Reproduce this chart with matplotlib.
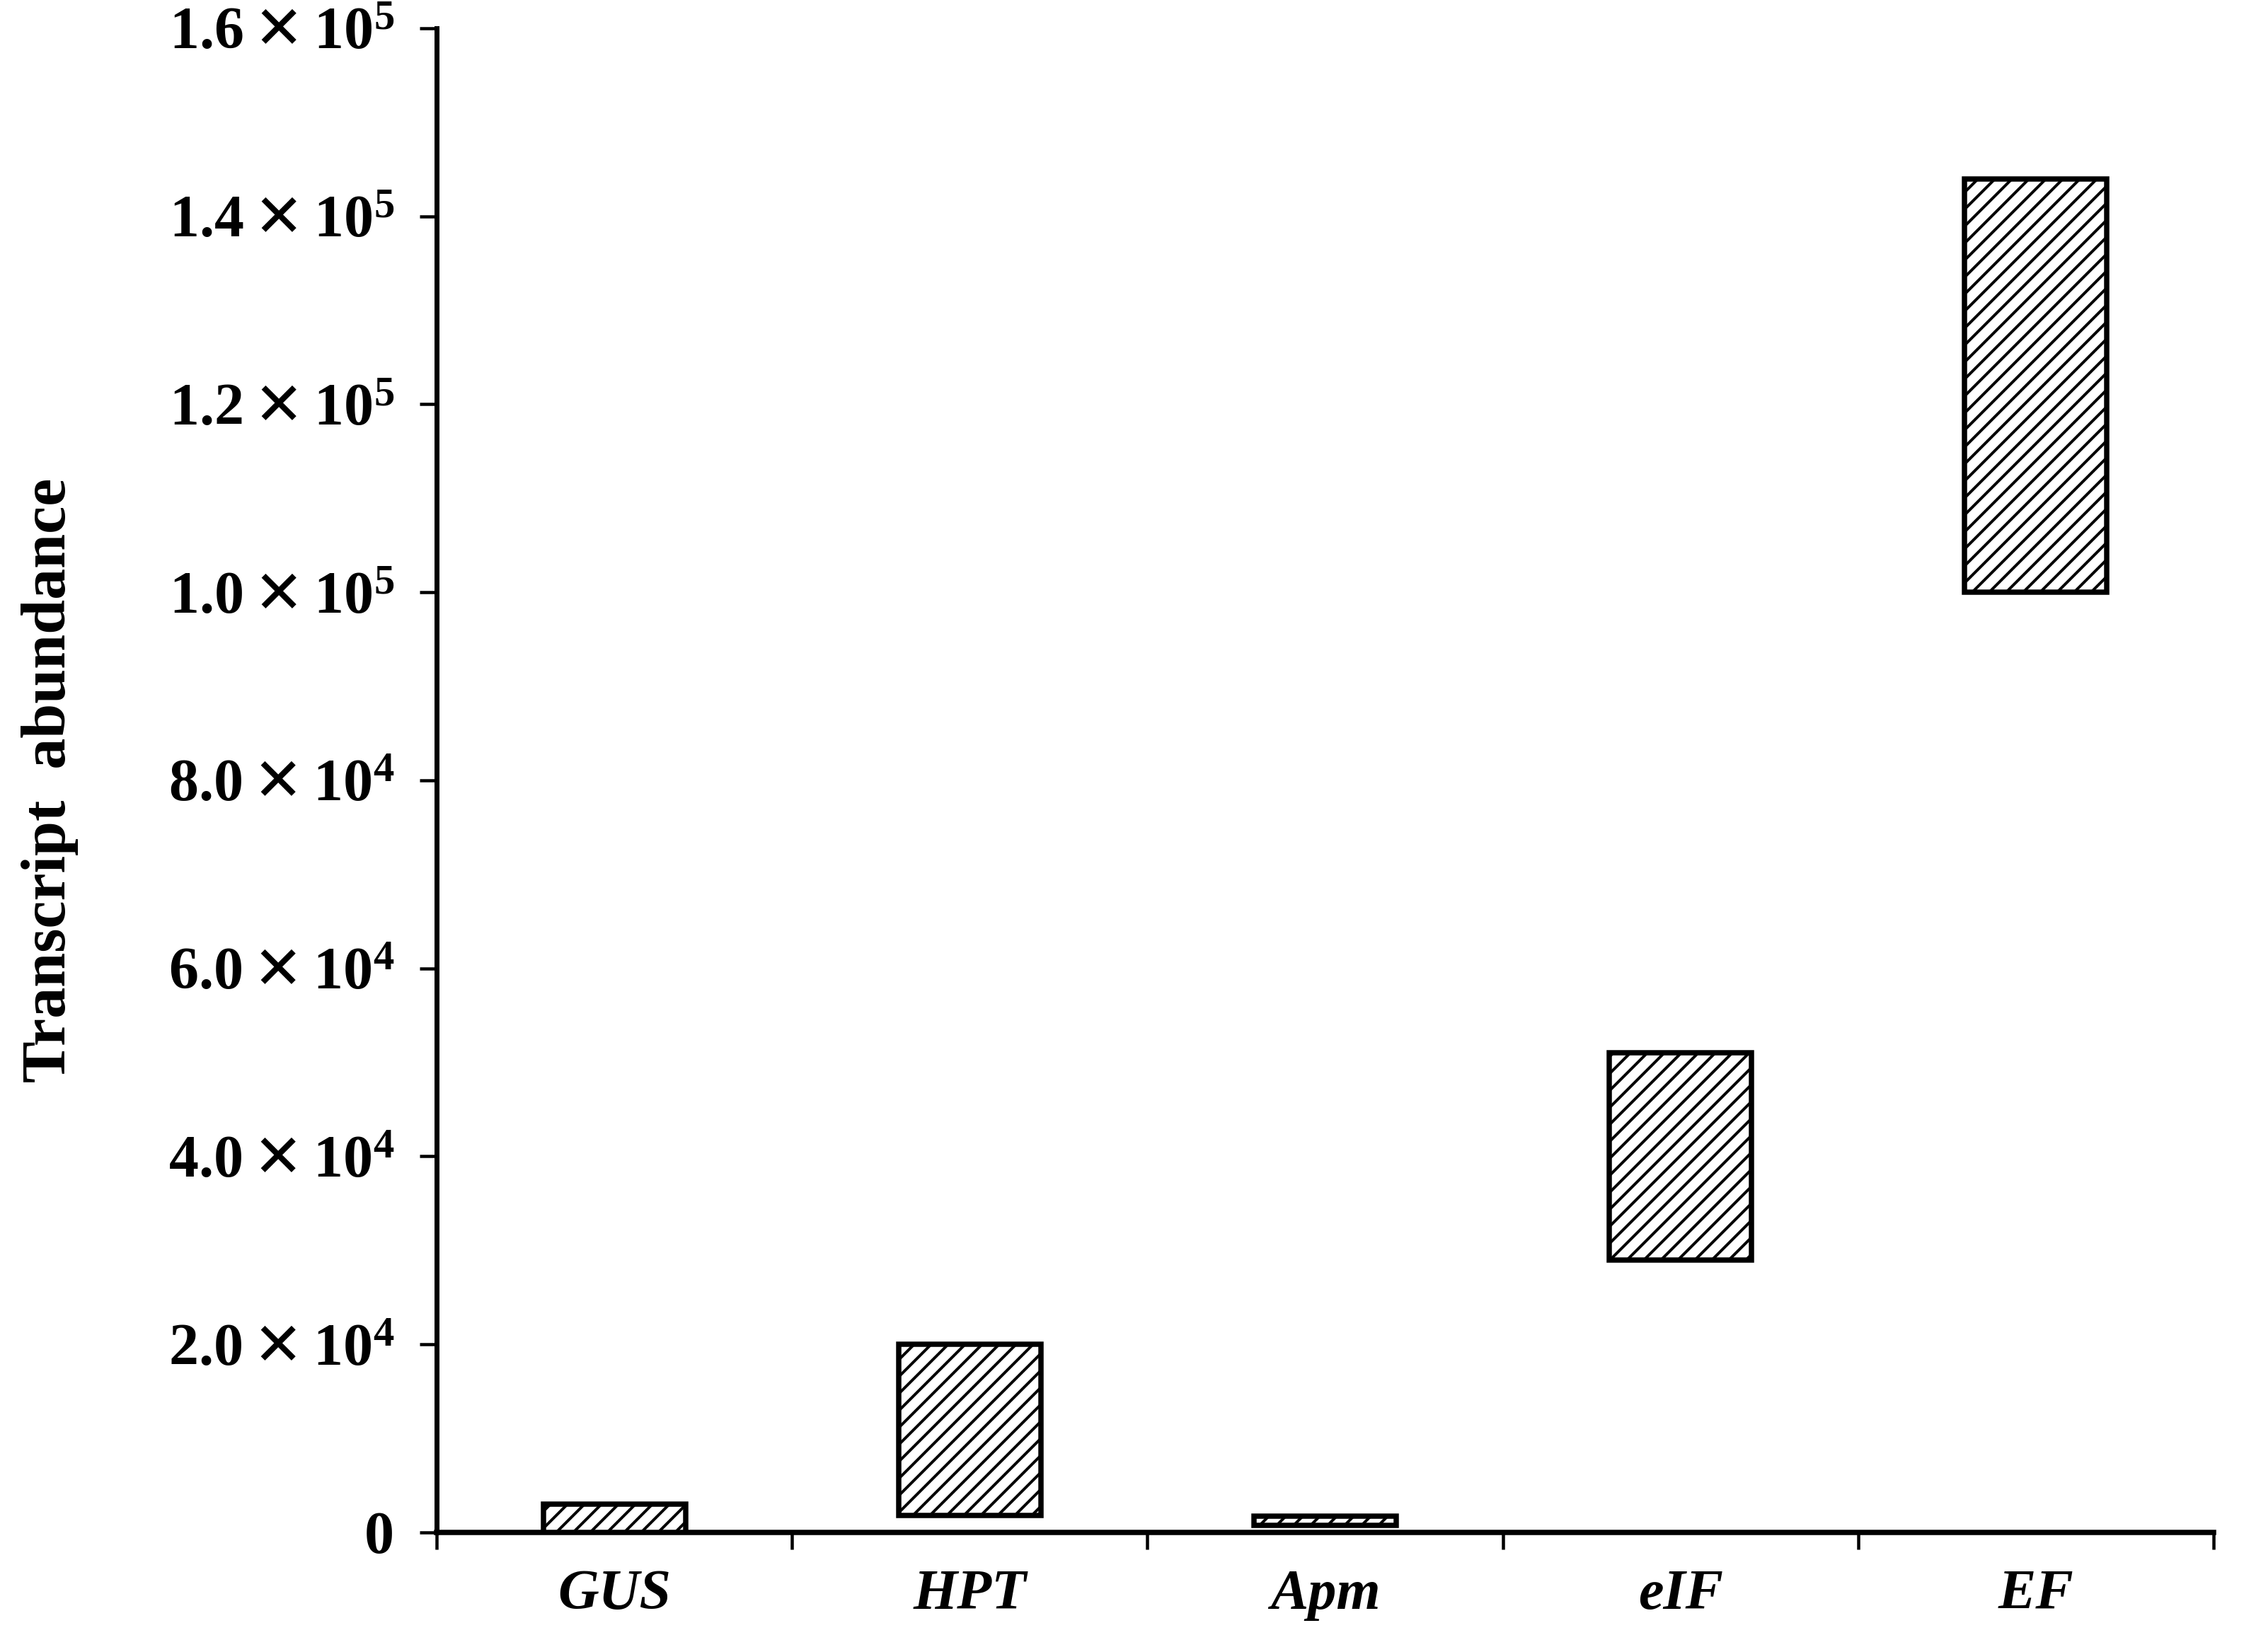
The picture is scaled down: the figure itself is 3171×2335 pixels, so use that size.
import matplotlib
matplotlib.use("Agg")
import matplotlib.pyplot as plt

genes = ["GUS", "HPT", "Apm", "eIF", "EF"]
low = [0, 1800, 750, 29000, 100000]
high = [3000, 20000, 1700, 51000, 144000]
yticks = [0, 20000, 40000, 60000, 80000, 100000, 120000, 140000, 160000]
ytick_labels = ["0",
                r"$\mathbf{2.0}\:\mathsf{✕}\:\mathbf{10^{4}}$",
                r"$\mathbf{4.0}\:\mathsf{✕}\:\mathbf{10^{4}}$",
                r"$\mathbf{6.0}\:\mathsf{✕}\:\mathbf{10^{4}}$",
                r"$\mathbf{8.0}\:\mathsf{✕}\:\mathbf{10^{4}}$",
                r"$\mathbf{1.0}\:\mathsf{✕}\:\mathbf{10^{5}}$",
                r"$\mathbf{1.2}\:\mathsf{✕}\:\mathbf{10^{5}}$",
                r"$\mathbf{1.4}\:\mathsf{✕}\:\mathbf{10^{5}}$",
                r"$\mathbf{1.6}\:\mathsf{✕}\:\mathbf{10^{5}}$"]

plt.rcParams["font.family"] = ["Liberation Serif", "DejaVu Serif"]
plt.rcParams["mathtext.fontset"] = "custom"
plt.rcParams["mathtext.rm"] = "Liberation Serif:bold"
plt.rcParams["mathtext.bf"] = "Liberation Serif:bold"
plt.rcParams["mathtext.sf"] = "DejaVu Sans"
plt.rcParams["mathtext.it"] = "Liberation Serif:bold:italic"
plt.rcParams["hatch.linewidth"] = 4.0

DPI = 72
fig = plt.figure(figsize=(3171 / DPI, 2335 / DPI), dpi=DPI)
ax = fig.add_axes([0.1946, 0.0724, 0.7918, 0.9105])

heights = [h - l for h, l in zip(high, low)]
x = list(range(len(genes)))
ax.bar(x, heights, bottom=low, width=0.4, color="white", edgecolor="black",
       linewidth=7.5, hatch="/", zorder=3)

ax.set_xlim(-0.5, len(genes) - 0.5)
ax.set_ylim(0, 160000)
ax.set_yticks(yticks)
ax.set_yticklabels(ytick_labels, fontsize=84, fontweight="bold")
ax.set_xticks([i - 0.5 for i in range(len(genes) + 1)])
ax.set_xticklabels([])
ax.set_xticks(x, minor=True)
ax.set_xticklabels(genes, minor=True, fontsize=80, fontweight="bold", style="italic")
ax.tick_params(axis="x", which="minor", length=0, pad=52)
ax.tick_params(axis="x", which="major", direction="out", length=24, width=4.5)
ax.tick_params(axis="y", direction="out", length=24, width=4.5, pad=36)

for s in ["top", "right"]:
    ax.spines[s].set_visible(False)
ax.spines["left"].set_linewidth(7)
ax.spines["bottom"].set_linewidth(7.5)

ax.set_ylabel("Transcript  abundance", fontsize=88, fontweight="bold")
ax.yaxis.set_label_coords(-0.2015, 0.5)

fig.savefig("out.png", dpi=DPI)
